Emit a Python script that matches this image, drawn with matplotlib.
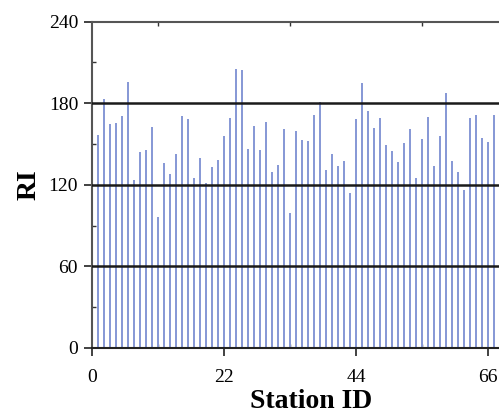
import numpy as np
import matplotlib
matplotlib.use("Agg")
import matplotlib.pyplot as plt
from matplotlib.ticker import MultipleLocator

# RI value per monitoring station
station_ids = list(range(1, 68))
ri_values = [
    156.8, 182.7, 164.9, 165.4, 170.5, 195.7, 123.3, 144.1, 145.6, 162.4,
    96.4, 136.3, 127.7, 142.4, 170.3, 168.6, 124.8, 139.4, 121.3, 133.1,
    138.2, 155.8, 169.3, 204.8, 204.0, 146.5, 162.9, 145.3, 165.9, 129.2,
    134.8, 160.7, 99.6, 159.3, 152.7, 151.9, 171.2, 180.6, 130.9, 142.9,
    134.1, 137.5, 114.3, 168.6, 195.0, 174.4, 161.5, 169.1, 149.0, 144.8,
    136.5, 150.5, 161.2, 125.3, 153.9, 169.5, 134.1, 155.6, 187.2, 137.2,
    129.2, 116.2, 169.1, 171.5, 154.1, 151.4, 171.5,
]
x_ticks = [0, 22, 44, 66]
y_ticks = [0, 60, 120, 180, 240]
ref_levels = [60, 120, 180]

plt.rcParams["font.family"] = ["Liberation Serif", "DejaVu Serif"]

W, H = 499, 417
fig = plt.figure(figsize=(W / 100, H / 100), dpi=100)
left_px, bottom_px, top_px, right_px = 92, 348, 21.5, 530
ax = fig.add_axes([left_px / W, (H - bottom_px) / H,
                   (right_px - left_px) / W, (bottom_px - top_px) / H])

ax.bar(station_ids, ri_values, width=0.28, color="#8899d6", edgecolor="none",
       zorder=2)
for lv in ref_levels:
    ax.axhline(lv, color="#1a1a1a", lw=1.8, zorder=3)

ax.set_xlim(0, (right_px - left_px) / 6.0)
ax.set_ylim(0, 240)
ax.set_xticks(x_ticks)
ax.set_yticks(y_ticks)
ax.xaxis.set_minor_locator(MultipleLocator(11))
ax.yaxis.set_minor_locator(MultipleLocator(30))

spine_col = "#555555"
for s in ax.spines.values():
    s.set_color(spine_col)
    s.set_linewidth(1.5)
ax.spines["bottom"].set_color("#222222")

ax.tick_params(axis="both", which="major", direction="out", length=6,
               width=1.3, color="#333333", labelsize=14, pad=4)
ax.tick_params(axis="x", which="major", pad=9)
ax.tick_params(axis="both", which="minor", direction="in", length=3,
               width=1.0, color="#333333")
ax.tick_params(axis="x", which="both", top=True)
ax.tick_params(axis="x", which="major", top=False)

ax.set_xlabel("Station ID", fontsize=20, fontweight="bold", labelpad=2)
ax.set_ylabel("RI", fontsize=20, fontweight="bold", labelpad=5)

fig.savefig("out.png", dpi=100)
